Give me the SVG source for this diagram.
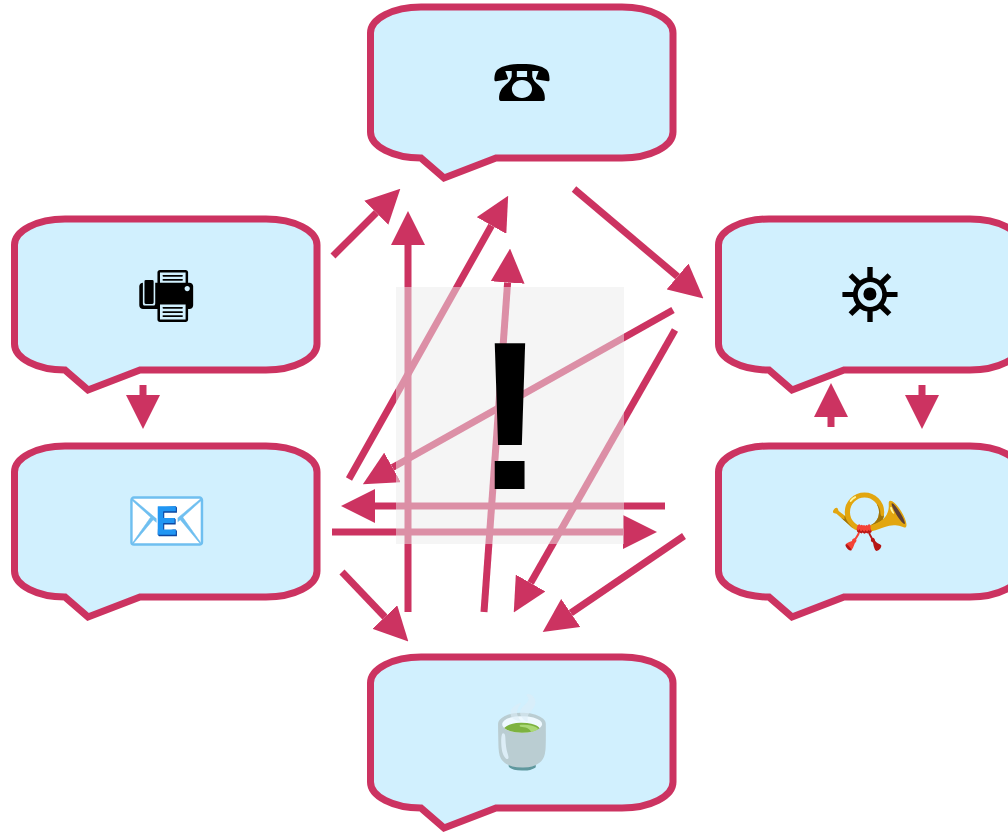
<svg xmlns="http://www.w3.org/2000/svg" width="1008" height="833" viewBox="0 0 1008 833">
<style>
.b{fill:#d1f0fe;stroke:#cc3361;stroke-width:7}
.c{stroke:#cc3361;stroke-width:7;fill:none;marker-end:url(#h)}
.i{font-family:"Liberation Sans","Noto Sans CJK SC",sans-serif;font-size:67px;text-anchor:middle}
</style>
<defs>
<marker id="h" markerUnits="userSpaceOnUse" markerWidth="34" markerHeight="34" refX="0" refY="17" orient="auto" viewBox="0 0 34 34"><path d="M0 0L34 17L0 34Z" fill="#cc3361"/></marker>
<path id="s" class="b" d="M421 7L622 7A51 26 0 0 1 673 33L673 132A51 26 0 0 1 622 158L496 158L444 178L421 158A50.500 26 0 0 1 370.500 132L370.500 33A50.500 26 0 0 1 421 7Z"/>
</defs>
<g id="n1"><use href="#s"/><text class="i" transform="translate(522 103) scale(1 .9)" style="font-size:60px">☎</text></g>
<g id="n2"><use href="#s" x="-356" y="212"/><text class="i" x="166" y="316.500" style="font-size:64px">🖷</text></g>
<g id="n3"><use href="#s" x="-356" y="439"/><text class="i" x="166.500" y="544">📧</text></g>
<g id="n4"><use href="#s" x="348" y="212"/><text class="i" x="869.500" y="320" style="font-size:75px">⛯</text></g>
<g id="n5"><use href="#s" x="348" y="439"/><text class="i" x="869.500" y="544">📯</text></g>
<g id="n6"><use href="#s" y="650"/><text class="i" x="522" y="756" style="font-size:68px">🍵</text></g>
<g id="connectors">
<path class="c" d="M333 256L376.300 212.700"/>
<path class="c" d="M408 612L408 245"/>
<path class="c" d="M349 479L491.500 225.500"/>
<path class="c" d="M484 612L507.600 282.500"/>
<path class="c" d="M574 189L677.500 276.500"/>
<path class="c" d="M673 310L392.500 467.500"/>
<path class="c" d="M675 330L530.600 583"/>
<path class="c" d="M665 506L375 506"/>
<path class="c" d="M332 532L623 532"/>
<path class="c" d="M684 536L570.800 613"/>
<path class="c" d="M342 572L384.900 617"/>
<path class="c" d="M143 385L143 395"/>
<path class="c" d="M831 427L831 417"/>
<path class="c" d="M922 385L922 395"/>
</g>
<g id="overlay"><rect x="396" y="287" width="228" height="257" fill="#ebebeb" fill-opacity=".5"/>
<text x="510" y="489" font-family="Liberation Sans" font-weight="bold" font-size="212" text-anchor="middle">!</text></g>
</svg>
